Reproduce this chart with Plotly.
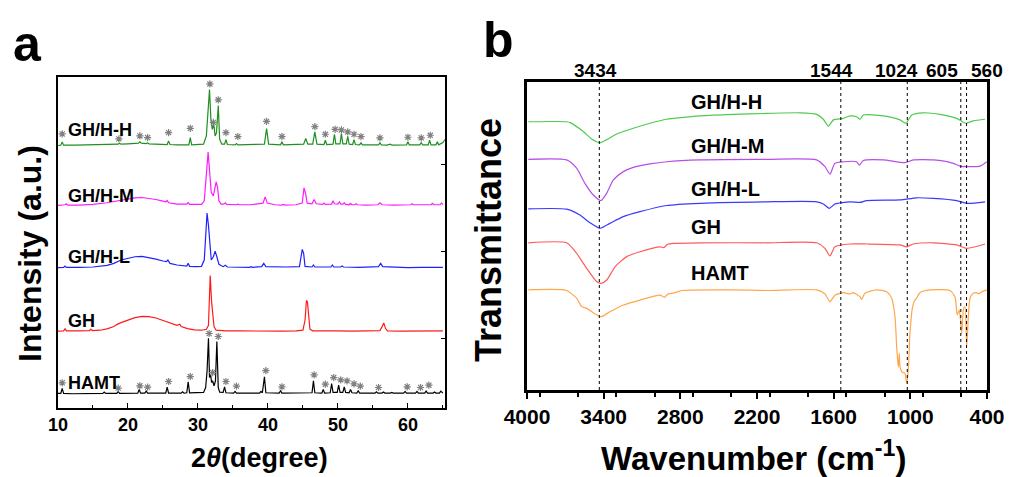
"""XRD patterns (a) and FTIR spectra (b) of GH / HAMT composites"""

import plotly.graph_objects as go

# ---------------- (a) XRD data: 2theta, intensity above each baseline ----------------
hamt_2t = [10.0, 10.4, 10.6, 10.8, 12.0, 14.0, 16.4, 16.6, 16.8, 18.4, 18.6, 18.8, 21.4, 21.6, 21.8,
           22.4, 22.6, 22.8, 25.4, 25.6, 25.8, 27.6, 27.8, 28.0, 28.4, 28.6, 28.8, 30.8, 31.1, 31.3,
           31.5, 31.65, 31.8, 31.95, 32.1, 32.3, 32.5, 32.7, 32.9, 33.1, 33.6, 33.8, 34.0, 35.1, 35.3,
           35.5, 38.8, 39.0, 39.2, 39.5, 39.7, 41.6, 41.8, 42.0, 43.5, 43.7, 44.0, 46.3, 46.5, 46.7,
           47.7, 47.9, 48.1, 48.9, 49.1, 49.3, 49.9, 50.1, 50.3, 50.7, 50.9, 51.1, 51.6, 51.8, 52.0,
           52.7, 52.9, 53.1, 55.3, 55.5, 55.7, 56.3, 56.5, 56.7, 57.5, 57.7, 57.9, 59.4, 59.6, 59.8,
           61.1, 61.3, 61.5, 62.4, 62.6, 62.8, 63.6, 63.8, 64.0, 64.5, 64.7, 65.0]
hamt_int = [0.2, 0.2, 1.7, 0.2, 0.1, 0.2, 0.2, 0.6, 0.2, 0.2, 0.8, 0.2, 0.3, 1.4, 0.3,
            0.3, 0.9, 0.3, 0.3, 2.1, 0.3, 0.3, 0.7, 0.3, 0.4, 3.7, 0.4, 0.5, 2.0, 7.0,
            16.9, 5.0, 6.0, 3.5, 4.0, 2.5, 4.0, 15.9, 2.0, 0.6, 0.5, 2.2, 0.4, 0.3, 0.8,
            0.3, 0.3, 0.8, 0.4, 5.2, 0.4, 0.3, 1.0, 0.3, 0.3, 0.5, 0.3, 0.4, 4.0, 0.4,
            0.3, 1.4, 0.3, 0.4, 3.2, 0.5, 0.5, 2.7, 0.5, 0.5, 2.2, 0.5, 0.4, 1.4, 0.4,
            0.3, 1.0, 0.3, 0.3, 0.7, 0.3, 0.3, 0.6, 0.3, 0.3, 0.5, 0.3, 0.3, 0.8, 0.3,
            0.3, 0.8, 0.3, 0.3, 0.9, 0.3, 0.3, 0.6, 0.3, 0.3, 0.9, 0.3]

gh_2t = [10.0, 10.8, 11.0, 11.2, 13.0, 14.5, 14.7, 14.9, 16.0, 17.0, 18.0, 18.4, 19.0, 20.0, 21.0,
         22.0, 23.0, 24.0, 25.0, 26.0, 27.0, 27.4, 27.6, 28.5, 29.5, 30.5, 31.2, 31.5, 31.75, 31.95,
         32.1, 32.3, 32.6, 34.0, 36.0, 38.0, 40.0, 42.0, 44.0, 45.0, 45.3, 45.5, 45.65, 45.8, 46.0,
         46.4, 48.0, 50.0, 52.0, 54.0, 56.0, 56.3, 56.55, 56.8, 57.1, 59.0, 61.0, 63.0, 65.0]
gh_int = [0.2, 0.3, 0.9, 0.3, 0.3, 0.4, 0.8, 0.4, 0.5, 0.9, 1.6, 2.2, 2.8, 3.6, 4.3,
          4.7, 4.6, 4.2, 3.5, 2.7, 2.0, 2.3, 1.6, 1.0, 0.6, 0.5, 0.8, 2.0, 17.0, 9.0,
          5.5, 1.5, 0.5, 0.3, 0.3, 0.2, 0.3, 0.2, 0.3, 0.5, 3.5, 9.5, 9.0, 5.0, 0.8,
          0.3, 0.2, 0.3, 0.2, 0.2, 0.4, 1.5, 2.7, 1.0, 0.3, 0.2, 0.3, 0.2, 0.3]

ghl_2t = [10.0, 10.8, 11.0, 11.2, 13.0, 15.0, 17.0, 18.0, 19.0, 20.0, 21.0, 22.0, 23.0, 24.0, 25.0,
          25.5, 25.7, 26.0, 27.0, 28.0, 28.4, 28.6, 28.8, 29.8, 30.5, 30.9, 31.3, 31.5, 31.7, 31.9,
          32.2, 32.45, 32.7, 33.0, 33.6, 33.9, 34.2, 36.0, 37.4, 37.6, 37.8, 39.1, 39.4, 39.7, 41.5,
          42.5, 44.5, 44.7, 44.9, 45.1, 45.3, 46.3, 46.5, 46.7, 47.9, 48.1, 48.3, 49.0, 49.2, 49.4,
          50.4, 50.6, 50.8, 53.0, 55.8, 56.1, 56.4, 58.0, 60.0, 62.0, 64.0, 65.0]
ghl_int = [0.2, 0.3, 0.7, 0.3, 0.3, 0.4, 0.9, 1.5, 2.5, 3.1, 3.5, 3.6, 3.3, 2.8, 2.2,
           2.0, 2.5, 1.5, 1.0, 0.7, 0.7, 1.5, 0.6, 0.5, 0.6, 2.5, 16.7, 13.0, 6.0, 2.5,
           3.5, 5.2, 3.5, 1.2, 0.5, 0.9, 0.4, 0.3, 0.3, 0.5, 0.3, 0.5, 1.5, 0.5, 0.3,
           0.4, 0.5, 3.0, 5.7, 4.5, 0.6, 0.4, 1.0, 0.4, 0.3, 0.5, 0.3, 0.4, 1.0, 0.4,
           0.4, 0.7, 0.4, 0.3, 0.5, 1.5, 0.5, 0.3, 0.2, 0.3, 0.2, 0.3]

ghm_2t = [10.0, 11.0, 11.2, 11.4, 13.0, 15.0, 17.0, 18.0, 19.0, 20.0, 21.0, 22.0, 23.0, 24.0, 25.0,
          25.4, 25.6, 25.8, 27.0, 28.4, 28.6, 28.8, 30.5, 30.9, 31.45, 31.7, 31.9, 32.2, 32.6, 32.8,
          33.0, 33.3, 33.7, 33.9, 34.1, 35.5, 35.7, 35.9, 37.5, 39.3, 39.6, 39.9, 41.0, 42.0, 42.2,
          42.4, 44.0, 44.9, 45.15, 45.4, 45.6, 46.3, 46.6, 46.9, 47.8, 48.0, 48.2, 49.1, 49.3, 49.5,
          50.0, 50.2, 50.4, 50.7, 50.9, 51.1, 51.6, 51.8, 52.0, 52.4, 52.6, 52.8, 54.0, 55.7, 56.0,
          56.3, 58.0, 60.4, 60.6, 60.8, 62.0, 63.3, 63.5, 63.7, 64.6, 64.8, 65.0]
ghm_int = [0.1, 0.3, 0.6, 0.2, 0.2, 0.4, 0.9, 1.3, 1.7, 2.1, 2.4, 2.5, 2.3, 1.9, 1.4,
           1.2, 1.6, 0.9, 0.5, 0.5, 1.0, 0.4, 0.4, 1.5, 16.2, 10.0, 4.0, 3.0, 7.2, 5.5,
           1.5, 0.5, 0.5, 0.9, 0.4, 0.3, 0.5, 0.3, 0.3, 0.8, 2.7, 0.8, 0.3, 0.2, 0.4,
           0.2, 0.3, 0.8, 5.4, 3.5, 0.8, 0.6, 1.9, 0.6, 0.4, 0.8, 0.4, 0.5, 1.5, 0.6,
           0.5, 1.2, 0.5, 0.5, 0.9, 0.4, 0.3, 0.7, 0.3, 0.3, 0.6, 0.3, 0.2, 0.3, 0.9,
           0.3, 0.2, 0.3, 0.6, 0.3, 0.2, 0.3, 0.7, 0.3, 0.3, 0.8, 0.4]

ghh_2t = [10.0, 10.4, 10.6, 10.8, 12.5, 14.5, 16.0, 18.6, 18.8, 19.0, 20.0, 21.0, 21.5, 21.7, 21.9,
          22.6, 22.8, 23.0, 24.0, 25.6, 25.8, 26.0, 27.0, 28.7, 28.9, 29.1, 30.8, 31.2, 31.65, 31.85,
          32.05, 32.25, 32.45, 32.65, 32.9, 33.1, 33.4, 33.8, 34.0, 34.2, 35.3, 35.5, 35.7, 37.5, 39.5,
          39.8, 40.1, 41.8, 42.0, 42.2, 44.0, 45.1, 45.4, 45.7, 46.4, 46.7, 47.0, 48.0, 48.2, 48.4,
          49.3, 49.5, 49.7, 50.3, 50.5, 50.7, 51.2, 51.4, 51.6, 52.1, 52.3, 52.5, 53.1, 53.3, 53.5,
          55.0, 55.8, 56.0, 56.2, 57.0, 57.5, 57.7, 59.8, 60.0, 60.2, 61.7, 61.9, 62.1, 62.9, 63.1,
          63.3, 64.0, 64.2, 64.4, 65.0, 65.3]
ghh_int = [0.1, 0.2, 1.2, 0.2, 0.2, 0.3, 0.4, 0.5, 0.8, 0.5, 0.6, 0.8, 0.8, 1.2, 0.8,
           0.7, 0.9, 0.6, 0.5, 0.4, 1.5, 0.4, 0.3, 0.3, 2.5, 0.3, 0.5, 3.0, 17.0, 8.0,
           5.0, 6.7, 3.0, 4.0, 12.2, 2.0, 0.5, 0.5, 1.9, 0.4, 0.3, 0.7, 0.3, 0.3, 0.5,
           5.2, 0.5, 0.3, 1.2, 0.3, 0.3, 0.5, 2.2, 0.5, 0.5, 4.2, 0.5, 0.4, 1.7, 0.4,
           0.5, 3.5, 0.6, 0.6, 3.7, 0.6, 0.6, 2.9, 0.5, 0.4, 1.9, 0.4, 0.3, 0.9, 0.3,
           0.2, 0.3, 0.9, 0.3, 0.2, 0.5, 0.2, 0.3, 1.2, 0.3, 0.3, 1.0, 0.3, 0.3, 1.7,
           0.3, 0.3, 1.2, 0.3, 1.0, 1.9]

# baselines of the stacked XRD patterns
xrd_names = ["HAMT", "GH", "GH/H-L", "GH/H-M", "GH/H-H"]
xrd_offsets = [4.2, 23.0, 42.2, 61.1, 79.2]

# asterisk-marked reflections (2theta, plotted height)
star_hamt_2t = [10.6, 18.6, 21.7, 22.8, 25.8, 28.9, 31.6, 32.1, 32.9, 34.0, 35.5, 39.7,
                42.0, 46.6, 48.2, 49.4, 50.4, 51.3, 52.3, 53.2, 55.8, 59.9, 61.8, 63.0]
star_hamt_y = [7.6, 6.0, 6.7, 6.3, 8.0, 9.5, 22.5, 10.7, 21.6, 8.0, 6.6, 11.3,
               6.4, 10.0, 7.2, 9.2, 8.5, 8.2, 7.3, 6.6, 6.2, 6.4, 6.2, 6.9]
star_ghh_2t = [10.6, 18.7, 21.7, 22.8, 25.8, 28.9, 31.7, 32.2, 32.9, 34.0, 35.7, 39.8,
               42.0, 46.7, 48.2, 49.6, 50.5, 51.4, 52.3, 53.3, 56.0, 60.0, 61.9, 63.2]
star_ghh_y = [82.8, 81.3, 82.2, 81.7, 83.2, 84.5, 97.9, 86.3, 93.1, 83.2, 82.0, 86.6,
              82.0, 85.0, 82.7, 84.2, 84.0, 83.4, 82.7, 82.0, 81.6, 81.8, 81.6, 82.4]

# ---------------- (b) FTIR data: wavenumber, transmittance (stacked, a.u.) ----------------
ftir_ghh_w = [3990, 3690, 3663, 3559, 3494, 3429, 3380, 3298, 3168, 3037, 2907, 2776, 2646, 2385,
              2124, 1863, 1733, 1681, 1642, 1602, 1524, 1472, 1420, 1394, 1368, 1211, 1081, 1034,
              989, 898, 767, 637, 568, 507, 415]
ftir_ghh_t = [87.1, 87.1, 86.8, 83.9, 81.5, 80.3, 81.2, 83.1, 85.0, 86.6, 87.9, 88.5, 89.0, 89.5,
              89.8, 90.0, 89.5, 87.9, 85.7, 87.7, 88.2, 89.0, 88.7, 87.9, 89.3, 89.0, 87.7, 86.6,
              89.3, 90.0, 89.5, 88.2, 86.6, 87.4, 87.9]

ftir_ghm_w = [3990, 3690, 3612, 3547, 3481, 3421, 3376, 3324, 3246, 3168, 3037, 2907, 2646, 2124,
              1733, 1668, 1629, 1590, 1524, 1420, 1399, 1368, 1211, 1042, 977, 820, 663, 611,
              454, 402]
ftir_ghm_t = [74.9, 74.7, 72.0, 67.1, 63.3, 61.5, 63.9, 68.2, 70.9, 72.3, 73.4, 74.1, 74.7, 74.9,
              74.7, 72.5, 70.1, 73.6, 74.1, 74.1, 73.0, 74.5, 74.7, 73.8, 74.7, 74.7, 73.6, 72.7,
              72.7, 74.1]

ftir_ghl_w = [3990, 3690, 3586, 3507, 3429, 3351, 3246, 3116, 2907, 2646, 2124, 1733, 1681, 1634,
              1590, 1472, 1394, 1342, 1081, 951, 820, 637, 559, 415]
ftir_ghl_t = [58.8, 58.7, 56.8, 54.3, 52.5, 54.1, 56.3, 57.9, 59.9, 60.6, 61.1, 61.1, 60.4, 59.0,
              60.4, 61.1, 60.9, 61.5, 61.7, 62.4, 62.2, 61.5, 60.6, 61.1]

ftir_gh_w = [3990, 3690, 3612, 3533, 3455, 3421, 3376, 3311, 3220, 3116, 2959, 2930, 2900, 2855,
             2646, 2124, 1733, 1668, 1629, 1590, 1472, 1342, 1081, 1029, 977, 820, 637, 559, 415]
ftir_gh_t = [47.8, 47.8, 44.4, 39.5, 35.2, 34.6, 35.7, 40.0, 43.3, 44.9, 46.5, 46.2, 47.3, 47.6,
             47.8, 47.8, 47.8, 46.0, 43.5, 46.5, 47.4, 47.4, 47.1, 46.5, 47.4, 47.8, 47.1, 46.0, 47.4]

ftir_hamt_w = [3990, 3690, 3612, 3573, 3533, 3468, 3421, 3351, 3246, 3116, 2959, 2925, 2894, 2842,
               2790, 2385, 2124, 1733, 1668, 1629, 1590, 1524, 1472, 1446, 1394, 1381, 1355, 1264,
               1185, 1146, 1120, 1107, 1094, 1086, 1081, 1068, 1042, 1029, 1016, 1003, 982, 964,
               951, 925, 846, 690, 651, 633, 617, 598, 585, 572, 559, 546, 533, 507, 480, 467, 441,
               402]
ftir_hamt_t = [32.5, 32.3, 29.8, 27.1, 26.5, 24.7, 23.8, 25.4, 27.6, 29.2, 30.8, 30.1, 31.2, 31.6,
               32.3, 32.5, 32.3, 32.5, 31.2, 28.7, 30.8, 31.6, 31.2, 31.6, 30.3, 29.4, 31.4, 32.5,
               31.9, 29.8, 23.8, 14.1, 7.4, 11.9, 7.6, 6.0, 5.4, 2.2, 6.5, 18.4, 27.1, 29.2,
               29.8, 31.6, 32.5, 32.3, 30.3, 24.4, 26.0, 18.4, 26.0, 27.1, 14.1, 23.8, 29.8, 31.4,
               31.6, 31.2, 31.9, 32.5]

ftir_marks = [3434, 1544, 1024, 605, 560]
ftir_mark_labels = ["3434", "1544", "1024", "605", "560"]

FONT = "Arial, Liberation Sans, sans-serif"
W, H = 1009, 477


def px(x):
    return x / W


def py(y):
    return 1 - y / H


fig = go.Figure()

# XRD curves
xrd_x = [hamt_2t, gh_2t, ghl_2t, ghm_2t, ghh_2t]
xrd_y = [hamt_int, gh_int, ghl_int, ghm_int, ghh_int]
xrd_colors = ["#000000", "#ff1a1a", "#2020ff", "#ff1aff", "#1f8f1f"]
for name, xs, ys, off, col in zip(xrd_names, xrd_x, xrd_y, xrd_offsets, xrd_colors):
    fig.add_trace(go.Scatter(x=xs, y=[v + off for v in ys], mode="lines", name=name,
                             line=dict(color=col, width=1.2), xaxis="x", yaxis="y"))

for sx, sy in [(star_hamt_2t, star_hamt_y), (star_ghh_2t, star_ghh_y)]:
    fig.add_trace(go.Scatter(x=sx, y=sy, mode="markers", xaxis="x", yaxis="y",
                             marker=dict(symbol="asterisk-open", size=6, color="#808080",
                                         line=dict(color="#808080", width=1.2))))

# FTIR curves
ftir_x = [ftir_hamt_w, ftir_gh_w, ftir_ghl_w, ftir_ghm_w, ftir_ghh_w]
ftir_y = [ftir_hamt_t, ftir_gh_t, ftir_ghl_t, ftir_ghm_t, ftir_ghh_t]
ftir_colors = ["#ffa64d", "#ff5a5a", "#3a3aff", "#b64ee8", "#4ccc4c"]
for name, xs, ys, col in zip(xrd_names, ftir_x, ftir_y, ftir_colors):
    fig.add_trace(go.Scatter(x=xs, y=ys, mode="lines", name=name,
                             line=dict(color=col, width=1.2, shape="spline", smoothing=0.6),
                             xaxis="x2", yaxis="y2"))

# dotted reference lines
for w in ftir_marks:
    fig.add_shape(type="line", xref="x2", yref="y2 domain", x0=w, x1=w, y0=0, y1=1,
                  line=dict(color="black", width=1, dash="dot"))

ann = []
label_shift = [-4, -9, -11, -19, 20]
for w, txt, dx in zip(ftir_marks, ftir_mark_labels, label_shift):
    ann.append(dict(x=w, xref="x2", y=py(70), yref="paper", text="<b>%s</b>" % txt,
                    showarrow=False, xshift=dx, xanchor="center", yanchor="middle",
                    font=dict(family=FONT, size=19, color="black")))

# curve labels
xrd_label_y = [383, 321, 257, 196, 130]
for txt, yy in zip(xrd_names, xrd_label_y):
    ann.append(dict(x=px(66), xref="paper", y=py(yy), yref="paper", text="<b>%s</b>" % txt,
                    showarrow=False, xanchor="left", yanchor="middle",
                    font=dict(family=FONT, size=18, color="black")))
ftir_label_y = [273, 227, 189, 146, 102]
for txt, yy in zip(xrd_names, ftir_label_y):
    ann.append(dict(x=px(689), xref="paper", y=py(yy), yref="paper", text="<b>%s</b>" % txt,
                    showarrow=False, xanchor="left", yanchor="middle",
                    font=dict(family=FONT, size=20, color="black")))

# axis titles and panel letters
titles = [
    (30, 254, "<b>Intensity (a.u.)</b>", 32, -90),
    (259, 458, "<b>2<i>θ</i>(degree)</b>", 27, 0),
    (488, 240, "<b>Transmittance</b>", 36, -90),
    (753, 456, "<b>Wavenumber (cm<sup>-1</sup>)</b>", 33, 0),
    (27, 44, "<b>a</b>", 50, 0),
    (498, 40, "<b>b</b>", 50, 0),
]
for x0, y0, txt, size, ang in titles:
    ann.append(dict(x=px(x0), y=py(y0), xref="paper", yref="paper", text=txt, textangle=ang,
                    showarrow=False, xanchor="center", yanchor="middle",
                    font=dict(family=FONT, size=size, color="black")))

fig.update_layout(
    template="none",
    width=W, height=H,
    margin=dict(l=0, r=0, t=0, b=0, pad=0, autoexpand=False),
    paper_bgcolor="white", plot_bgcolor="white",
    showlegend=False,
    annotations=ann,
    xaxis=dict(domain=[px(58), px(445)], range=[10, 65.3], tick0=10, dtick=10,
               ticks="inside", ticklen=5, tickwidth=1.2, tickcolor="black",
               minor=dict(dtick=5, ticks="inside", ticklen=3, tickcolor="black"),
               showline=True, linecolor="black", linewidth=1.5, mirror=True,
               showgrid=False, zeroline=False, automargin=False,
               tickfont=dict(family=FONT, size=18, color="black", weight="bold")),
    yaxis=dict(domain=[py(408), py(77)], range=[0, 100], side="right",
               tickvals=[21.1, 47.3, 73.7], ticks="inside", ticklen=4, tickcolor="black",
               showticklabels=False, showline=True, linecolor="black", linewidth=1.5,
               mirror=True, showgrid=False, zeroline=False, automargin=False),
    xaxis2=dict(domain=[px(527), px(987)], range=[4000, 400], tick0=400, dtick=600,
                ticks="outside", ticklen=6, tickwidth=2, tickcolor="black",
                minor=dict(dtick=300, ticks="outside", ticklen=4, tickwidth=1.5, tickcolor="black"),
                showline=True, linecolor="black", linewidth=2.5, mirror=True,
                showgrid=False, zeroline=False, anchor="y2", automargin=False,
                tickfont=dict(family=FONT, size=21, color="black", weight="bold")),
    yaxis2=dict(domain=[py(390), py(82)], range=[0, 100], anchor="x2",
                showticklabels=False, ticks="", showline=True, linecolor="black",
                linewidth=2.5, mirror=True, showgrid=False, zeroline=False, automargin=False),
)

# the page's default body margin would push the fixed-size figure off the window
fig.write_html("out.html", config={"displayModeBar": False},
               post_script="document.body.style.margin='0';")
